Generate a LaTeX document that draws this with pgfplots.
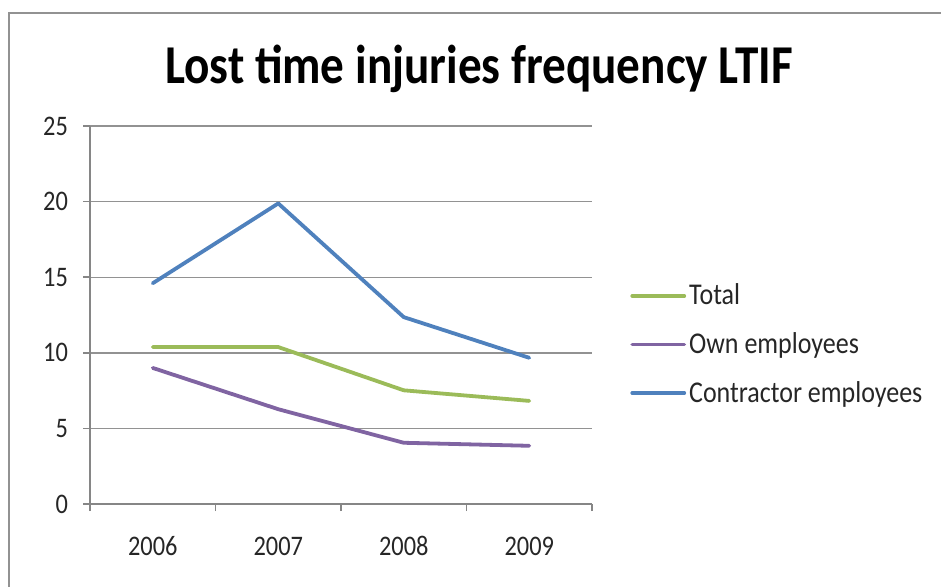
\documentclass[border=0pt]{standalone}
\usepackage{pgfplots}
\pgfplotsset{compat=1.18}
\usepackage{graphicx}
\usepackage{fontspec}
\setmainfont{Carlito}
\definecolor{xlgreen}{HTML}{9BBB59}
\definecolor{xlpurple}{HTML}{8064A2}
\definecolor{xlblue}{HTML}{4F81BD}
\definecolor{xlgrid}{HTML}{868686}
\definecolor{xltext}{HTML}{262626}
\newcommand\vs[1]{\scalebox{1}[1.16]{#1}}
\begin{document}
\begin{tikzpicture}
\useasboundingbox (0,0) rectangle (470.5pt,293pt);
\draw[color=xlgrid!90, line width=1pt] (4.25pt,-20pt) -- (4.25pt,286.75pt) -- (500pt,286.75pt);
\node[anchor=base, inner sep=0pt, font=\fontsize{23.6}{26}\selectfont\bfseries] at (239.5pt,251.5pt) {\vs{Lost time injuries frequency LTIF}};
\begin{axis}[
  at={(45pt,41pt)}, anchor=south west,
  scale only axis, width=251pt, height=189pt,
  xmin=0.5, xmax=4.5, ymin=0, ymax=25,
  axis x line*=bottom, axis y line*=left,
  axis line style={xlgrid, line width=0.8pt, -},
  xtick={0.5,1.5,2.5,3.5,4.5},
  x tick label as interval,
  xticklabels={\vs{2006},\vs{2007},\vs{2008},\vs{2009}},
  xticklabel style={anchor=base, yshift=-22pt},
  ytick={0,5,10,15,20,25},
  yticklabel={\vs{\pgfmathprintnumber{\tick}}},
  yticklabel style={xshift=-4pt},
  ymajorgrids, grid style={xlgrid!90, line width=0.7pt},
  tick align=outside, major tick length=3.5pt,
  tick style={xlgrid, line width=0.8pt},
  every tick label/.append style={font=\fontsize{12.2}{14}\selectfont, text=xltext},
  /pgf/number format/assume math mode=true,
  legend style={at={(1.0637,0.422)}, anchor=west, draw=none, fill=none,
    font=\fontsize{13}{15}\selectfont, text=xltext, row sep=9.3pt,
    nodes={inner sep=1.5pt}},
  legend cell align=left,
  legend image code/.code={\draw[#1] (0pt,0pt) -- (26pt,0pt);},
  every axis plot/.append style={line width=1.9pt, line join=round, line cap=round},
]
\addplot[xlgreen] coordinates {(1,10.38) (2,10.38) (3,7.52) (4,6.82)};
\addlegendentry{\vs{Total}}
\addplot[xlpurple] coordinates {(1,9.0) (2,6.27) (3,4.05) (4,3.85)};
\addlegendentry{\vs{Own employees}}
\addplot[xlblue] coordinates {(1,14.6) (2,19.88) (3,12.36) (4,9.67)};
\addlegendentry{\vs{Contractor employees}}
\end{axis}
\end{tikzpicture}
\end{document}
